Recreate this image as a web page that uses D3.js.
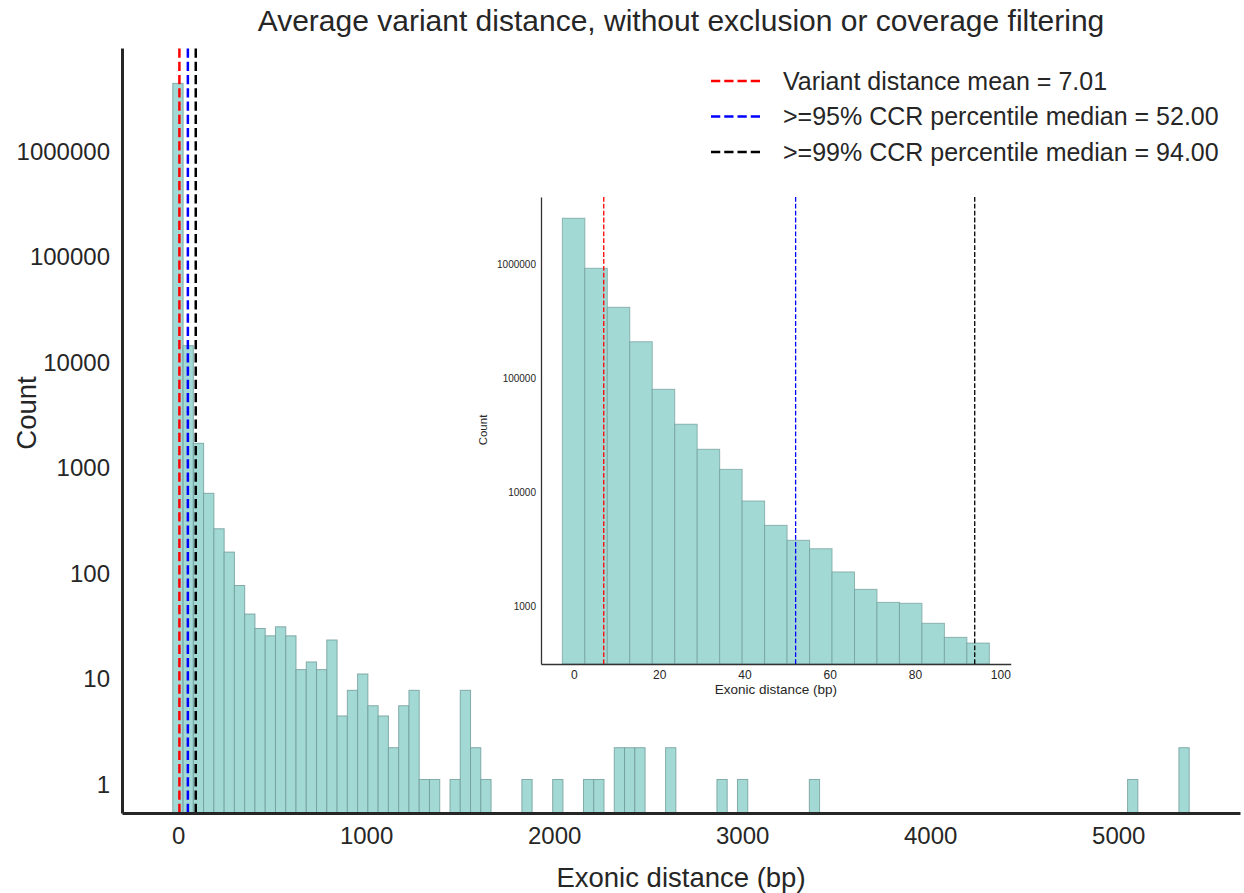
<!DOCTYPE html>
<html>
<head>
<meta charset="utf-8">
<script src="https://cdn.jsdelivr.net/npm/d3@7"></script>
<style>
  body { margin: 0; background: #fff; }
  text { font-family: "Liberation Sans", Arial, sans-serif; fill: #262626; }
</style>
</head>
<body>
<svg id="chart" width="1244" height="893"></svg>
<script>
// main histogram: 99 equal bins, first edge and width in bp
const mainBinStart = -28;
const mainBinWidth = 54.6;
const mainCounts = [
  3970000, 12940, 1537, 516, 238, 143, 69, 37, 27, 23,
  28, 23, 11, 13, 11, 21, 4, 7, 10, 5,
  4, 2, 5, 7, 1, 1, 0, 1, 7, 2,
  1, 0, 0, 0, 1, 0, 0, 1, 0, 0,
  1, 1, 0, 2, 2, 2, 0, 0, 2, 0,
  0, 0, 0, 1, 0, 1, 0, 0, 0, 0,
  0, 0, 1, 0, 0, 0, 0, 0, 0, 0,
  0, 0, 0, 0, 0, 0, 0, 0, 0, 0,
  0, 0, 0, 0, 0, 0, 0, 0, 0, 0,
  0, 0, 0, 1, 0, 0, 0, 0, 2
];

// zoomed histogram of the first 100 bp
const insetBinStart = -2.7;
const insetBinWidth = 5.27;
const insetCounts = [
  2518000, 917000, 417000, 208000, 79600, 39300, 23700, 15800, 8340, 5100,
  3770, 3180, 1990, 1400, 1076, 1056, 705, 531, 473
];

const refValues = [7.01, 52.0, 94.0];
const refColors = ["red", "blue", "black"];
const refLabels = [
  "Variant distance mean = 7.01",
  ">=95% CCR percentile median = 52.00",
  ">=99% CCR percentile median = 94.00"
];

const mainXTicks = [0, 1000, 2000, 3000, 4000, 5000];
const mainYTicks = [1, 10, 100, 1000, 10000, 100000, 1000000];
const insetXTicks = [0, 20, 40, 60, 80, 100];
const insetYTicks = [1000, 10000, 100000, 1000000];

const svg = d3.select("#chart");
const barFill = "#a3d9d5";
const barEdge = "#6f9b98";

function binsOf(counts, start, width) {
  return counts.map((c, i) => ({x0: start + i * width, x1: start + (i + 1) * width, n: c}))
    .filter(d => d.n > 0);
}

function padDomain(lo, hi) {
  const p = (hi - lo) * 0.05;
  return [lo - p, hi + p];
}

// ---------- main axes ----------
const m = {left: 122, right: 1240, top: 48, bottom: 813};
const mainBins = binsOf(mainCounts, mainBinStart, mainBinWidth);

const x = d3.scaleLinear()
  .domain(padDomain(mainBinStart, mainBinStart + mainCounts.length * mainBinWidth))
  .range([m.left, m.right]);
const y = d3.scaleLog()
  .domain([0.481, 8.59e6])
  .range([m.bottom, m.top]);

svg.append("g").selectAll("rect")
  .data(mainBins)
  .enter()
    .append("rect")
    .attr("x", d => x(d.x0))
    .attr("y", d => y(d.n))
    .attr("width", d => x(d.x1) - x(d.x0))
    .attr("height", d => m.bottom - y(d.n))
    .attr("fill", barFill)
    .attr("stroke", barEdge)
    .attr("stroke-opacity", 0.8)
    .attr("stroke-width", 1);

svg.append("g").selectAll("line")
  .data(refValues)
  .enter()
    .append("line")
    .attr("x1", d => x(d))
    .attr("x2", d => x(d))
    .attr("y1", m.bottom)
    .attr("y2", m.top)
    .attr("stroke", (d, i) => refColors[i])
    .attr("stroke-width", 2.5)
    .attr("stroke-dasharray", "9.25,4");

const xAxis = svg.append("g")
  .attr("transform", `translate(0,${m.bottom})`)
  .call(d3.axisBottom(x).tickValues(mainXTicks).tickSize(0).tickPadding(14).tickFormat(d3.format("d")));
const yAxis = svg.append("g")
  .attr("transform", `translate(${m.left},0)`)
  .call(d3.axisLeft(y).tickValues(mainYTicks).tickSize(0).tickPadding(12).tickFormat(d3.format("d")));

[xAxis, yAxis].forEach(a => {
  a.select(".domain").attr("stroke", "#262626").attr("stroke-width", 3);
  a.selectAll("text").style("font-size", "24px").attr("fill", "#262626");
});
xAxis.selectAll("text").attr("dy", "0.71em");
// matplotlib sits the labels a little below the tick
yAxis.selectAll("text").attr("dy", "0.54em");

svg.append("text")
  .attr("x", (m.left + m.right) / 2)
  .attr("y", 31)
  .attr("text-anchor", "middle")
  .style("font-size", "30px")
  .text("Average variant distance, without exclusion or coverage filtering");

svg.append("text")
  .attr("x", (m.left + m.right) / 2)
  .attr("y", 887)
  .attr("text-anchor", "middle")
  .style("font-size", "27.5px")
  .text("Exonic distance (bp)");

svg.append("text")
  .attr("transform", "translate(36,413) rotate(-90)")
  .attr("text-anchor", "middle")
  .style("font-size", "27.5px")
  .text("Count");

// legend
const legend = svg.append("g")
  .attr("transform", "translate(711,81)");
refLabels.forEach((lab, i) => {
  legend.append("line")
    .attr("x1", 0)
    .attr("x2", 50)
    .attr("y1", i * 35.5)
    .attr("y2", i * 35.5)
    .attr("stroke", refColors[i])
    .attr("stroke-width", 2.5)
    .attr("stroke-dasharray", "9.25,4");
  legend.append("text")
    .attr("x", 72)
    .attr("y", i * 35.5)
    .attr("dy", "0.35em")
    .style("font-size", "25px")
    .text(lab);
});

// ---------- inset axes ----------
const n = {left: 541, right: 1010.7, top: 197, bottom: 664};
const insetBins = binsOf(insetCounts, insetBinStart, insetBinWidth);

const xi = d3.scaleLinear()
  .domain(padDomain(insetBinStart, insetBinStart + insetCounts.length * insetBinWidth))
  .range([n.left, n.right]);
const yi = d3.scaleLog()
  .domain([310, 3.87e6])
  .range([n.bottom, n.top]);

const inset = svg.append("g");

inset.append("rect")
  .attr("x", n.left)
  .attr("y", n.top)
  .attr("width", n.right - n.left)
  .attr("height", n.bottom - n.top)
  .attr("fill", "#fff");

inset.append("g").selectAll("rect")
  .data(insetBins)
  .enter()
    .append("rect")
    .attr("x", d => xi(d.x0))
    .attr("y", d => yi(d.n))
    .attr("width", d => xi(d.x1) - xi(d.x0))
    .attr("height", d => n.bottom - yi(d.n))
    .attr("fill", barFill)
    .attr("stroke", barEdge)
    .attr("stroke-opacity", 0.7)
    .attr("stroke-width", 1);

inset.append("g").selectAll("line")
  .data(refValues)
  .enter()
    .append("line")
    .attr("x1", d => xi(d))
    .attr("x2", d => xi(d))
    .attr("y1", n.bottom)
    .attr("y2", n.top)
    .attr("stroke", (d, i) => refColors[i])
    .attr("stroke-width", 1.3)
    .attr("stroke-dasharray", "4.8,2.1");

const xiAxis = inset.append("g")
  .attr("transform", `translate(0,${n.bottom})`)
  .call(d3.axisBottom(xi).tickValues(insetXTicks).tickSize(0).tickPadding(6));
const yiAxis = inset.append("g")
  .attr("transform", `translate(${n.left},0)`)
  .call(d3.axisLeft(yi).tickValues(insetYTicks).tickSize(0).tickPadding(5).tickFormat(d3.format("d")));

[xiAxis, yiAxis].forEach(a => {
  a.select(".domain").attr("stroke", "#333").attr("stroke-width", 1.3);
});
xiAxis.selectAll("text").style("font-size", "12px").attr("fill", "#262626");
yiAxis.selectAll("text").style("font-size", "10px").attr("fill", "#262626");

inset.append("text")
  .attr("x", (n.left + n.right) / 2)
  .attr("y", 694)
  .attr("text-anchor", "middle")
  .style("font-size", "13.5px")
  .text("Exonic distance (bp)");

inset.append("text")
  .attr("transform", "translate(487,430) rotate(-90)")
  .attr("text-anchor", "middle")
  .style("font-size", "11.5px")
  .text("Count");
</script>
</body>
</html>
